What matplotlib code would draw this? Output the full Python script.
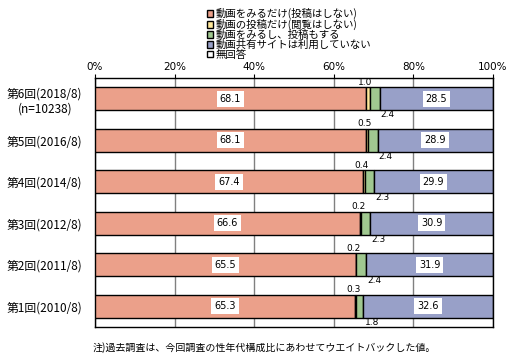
import matplotlib
matplotlib.use("Agg")
import matplotlib.pyplot as plt
import numpy as np

plt.rcParams['font.family'] = ['Noto Sans CJK JP', 'DejaVu Sans']

categories = ["第6回(2018/8)\n(n=10238)", "第5回(2016/8)", "第4回(2014/8)",
              "第3回(2012/8)", "第2回(2011/8)", "第1回(2010/8)"]
series_names = ["動画をみるだけ(投稿はしない)", "動画の投稿だけ(閲覧はしない)",
                "動画をみるし、投稿もする", "動画共有サイトは利用していない", "無回答"]
watch_only = [68.1, 68.1, 67.4, 66.6, 65.5, 65.3]
post_only = [1.0, 0.5, 0.4, 0.2, 0.2, 0.3]
both = [2.4, 2.4, 2.3, 2.3, 2.4, 1.8]
not_use = [28.5, 28.9, 29.9, 30.9, 31.9, 32.6]
no_answer = [0.0, 0.1, 0.0, 0.0, 0.0, 0.0]
xticks = [0, 20, 40, 60, 80, 100]
xtick_labels = ["0%", "20%", "40%", "60%", "80%", "100%"]
note = "注)過去調査は、今回調査の性年代構成比にあわせてウエイトバックした値。"

colors = ["#EBA08A", "#FFE89A", "#A0C890", "#98A0C8", "#FFFFFF"]
series = [watch_only, post_only, both, not_use, no_answer]

fig = plt.figure(figsize=(5.31, 3.62), dpi=100)
ax = fig.add_axes([95/531, 1-327/362, 398/531, 249/362])

y = np.arange(len(categories))
left = np.zeros(len(categories))
bar_h = 0.56
for vals, c, name in zip(series, colors, series_names):
    ax.barh(y, vals, left=left, height=bar_h, color=c, edgecolor="black",
            linewidth=1.0, label=name, zorder=3)
    left = left + np.array(vals)

box = dict(boxstyle="square,pad=0.3", fc="white", ec="none")
for i in range(len(categories)):
    ax.text(watch_only[i] / 2, y[i], f"{watch_only[i]:.1f}", ha="center", va="center",
            fontsize=7, bbox=box, zorder=5, family="DejaVu Sans")
    s = watch_only[i] + post_only[i] + both[i]
    ax.text(s + not_use[i] / 2, y[i], f"{not_use[i]:.1f}", ha="center", va="center",
            fontsize=7, bbox=box, zorder=5, family="DejaVu Sans")
    xp = watch_only[i] + post_only[i] / 2
    ax.text(xp - 0.6, y[i] - bar_h / 2 - 0.01, f"{post_only[i]:.1f}", ha="center", va="bottom",
            fontsize=6.5, zorder=5, family="DejaVu Sans")
    xg = watch_only[i] + post_only[i] + both[i] / 2
    ax.text(xg + 3.2, y[i] + bar_h / 2 + 0.0, f"{both[i]:.1f}", ha="center", va="top",
            fontsize=6.5, zorder=5, family="DejaVu Sans")

ax.set_xlim(0, 100)
ax.set_ylim(len(categories) - 0.5, -0.5)
ax.set_yticks(y)
ax.set_yticklabels(categories, fontsize=8.5, multialignment="center")
ax.tick_params(axis="y", length=0, pad=9)
ax.set_xticks(xticks)
ax.set_xticklabels(xtick_labels, fontsize=7.5, family="DejaVu Sans")
ax.xaxis.tick_top()
ax.tick_params(axis="x", direction="out", length=3, pad=1, top=True, bottom=False)
ax.grid(axis="x", color="#808080", linewidth=1.0, zorder=0)
for sp in ax.spines.values():
    sp.set_color("black")
    sp.set_linewidth(1.0)

leg = fig.legend(loc="upper left", bbox_to_anchor=(202/531, 1 - 3/362), frameon=False,
                 fontsize=7.5, handlelength=0.6, handleheight=0.6, handletextpad=0.2,
                 labelspacing=-0.03, borderpad=0)

fig.text(93/531, 1 - 348/362, note, fontsize=7.2, va="center", ha="left")

fig.savefig("out.png", dpi=100)
